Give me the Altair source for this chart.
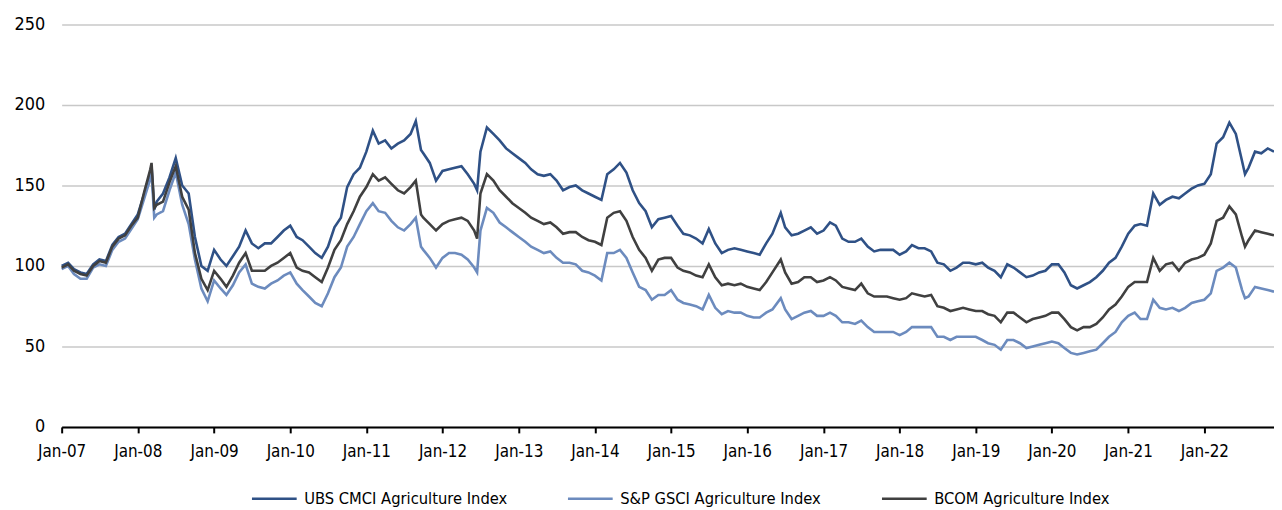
import altair as alt
import pandas as pd

# ---- data ----
dates = (
    [f"2007-{m:02d}-01" for m in range(1, 13)]
    + ["2008-01-01", "2008-02-01", "2008-03-01", "2008-03-07", "2008-03-20", "2008-04-01",
       "2008-05-01", "2008-06-01", "2008-07-01", "2008-08-01", "2008-09-01", "2008-10-01",
       "2008-11-01", "2008-12-01"]
    + [f"2009-{m:02d}-01" for m in range(1, 13)]
    + [f"2010-{m:02d}-01" for m in range(1, 13)]
    + [f"2011-{m:02d}-01" for m in range(1, 9)]
    + ["2011-08-26", "2011-09-20", "2011-10-01", "2011-11-01", "2011-12-01"]
    + [f"2012-{m:02d}-01" for m in range(1, 7)]
    + ["2012-06-15", "2012-07-01", "2012-08-01", "2012-09-01", "2012-10-01", "2012-11-01", "2012-12-01"]
    + [f"2013-{m:02d}-01" for m in range(1, 13)]
    + [f"2014-{m:02d}-01" for m in range(1, 13)]
    + [f"2015-{m:02d}-01" for m in range(1, 13)]
    + ["2016-01-01", "2016-02-01", "2016-03-01", "2016-04-01", "2016-05-01", "2016-06-10",
       "2016-07-01", "2016-08-01", "2016-09-01", "2016-10-01", "2016-11-01", "2016-12-01"]
    + [f"2017-{m:02d}-01" for m in range(1, 13)]
    + [f"2018-{m:02d}-01" for m in range(1, 13)]
    + [f"2019-{m:02d}-01" for m in range(1, 13)]
    + [f"2020-{m:02d}-01" for m in range(1, 13)]
    + [f"2021-{m:02d}-01" for m in range(1, 13)]
    + ["2022-01-01", "2022-02-01", "2022-03-01", "2022-04-01", "2022-05-01", "2022-06-01",
       "2022-07-01", "2022-07-15", "2022-08-01", "2022-09-01", "2022-10-01", "2022-11-01",
       "2022-12-01"]
)

ubs = (
    [100, 102, 98, 96, 95, 101, 104, 103, 113, 118, 120, 126]
    + [132, 145, 158, 162, 135, 140, 145, 155, 167, 150, 145, 118, 100, 97]
    + [110, 104, 100, 106, 112, 122, 114, 111, 114, 114, 118, 122]
    + [125, 118, 116, 112, 108, 105, 112, 124, 130, 149, 157, 161]
    + [171, 184, 176, 178, 173, 176, 178, 182, 190, 172, 170, 164, 153]
    + [159, 160, 161, 162, 157, 151, 147, 171, 186, 182, 178, 173, 170]
    + [167, 164, 160, 157, 156, 157, 153, 147, 149, 150, 147, 145]
    + [143, 141, 157, 160, 164, 158, 147, 139, 134, 124, 129, 130]
    + [131, 125, 120, 119, 117, 114, 123, 114, 108, 110, 111, 110]
    + [109, 108, 107, 114, 120, 133, 124, 119, 120, 122, 124, 120]
    + [122, 127, 125, 117, 115, 115, 117, 112, 109, 110, 110, 110]
    + [107, 109, 113, 111, 111, 109, 102, 101, 97, 99, 102, 102]
    + [101, 102, 99, 97, 93, 101, 99, 96, 93, 94, 96, 97]
    + [101, 101, 96, 88, 86, 88, 90, 93, 97, 102, 105, 112]
    + [120, 125, 126, 125, 145, 138, 141, 143, 142, 145, 148, 150]
    + [151, 157, 176, 180, 189, 182, 165, 157, 161, 171, 170, 173, 171]
)

gsci = (
    [98, 100, 95, 92, 92, 99, 101, 100, 110, 115, 117, 123]
    + [129, 142, 154, 158, 130, 132, 134, 147, 158, 138, 126, 104, 86, 78]
    + [91, 86, 82, 88, 96, 101, 89, 87, 86, 89, 91, 94]
    + [96, 89, 85, 81, 77, 75, 83, 93, 99, 112, 118, 126]
    + [134, 139, 134, 133, 128, 124, 122, 126, 130, 112, 110, 105, 99]
    + [105, 108, 108, 107, 104, 99, 96, 122, 136, 133, 127, 124, 121]
    + [118, 115, 112, 110, 108, 109, 105, 102, 102, 101, 97, 96]
    + [94, 91, 108, 108, 110, 105, 96, 87, 85, 79, 82, 82]
    + [85, 79, 77, 76, 75, 73, 82, 74, 70, 72, 71, 71]
    + [69, 68, 68, 71, 73, 80, 73, 67, 69, 71, 72, 69]
    + [69, 71, 69, 65, 65, 64, 66, 62, 59, 59, 59, 59]
    + [57, 59, 62, 62, 62, 62, 56, 56, 54, 56, 56, 56]
    + [56, 54, 52, 51, 48, 54, 54, 52, 49, 50, 51, 52]
    + [53, 52, 49, 46, 45, 46, 47, 48, 52, 56, 59, 65]
    + [69, 71, 67, 67, 79, 74, 73, 74, 72, 74, 77, 78]
    + [79, 83, 97, 99, 102, 99, 85, 80, 81, 87, 86, 85, 84]
)

bcom = (
    [99, 101, 97, 95, 94, 100, 103, 102, 112, 117, 119, 125]
    + [130, 146, 160, 164, 136, 138, 140, 152, 162, 143, 135, 108, 92, 85]
    + [97, 92, 87, 94, 102, 108, 97, 97, 97, 100, 102, 105]
    + [108, 99, 97, 96, 93, 90, 99, 110, 116, 126, 134, 143]
    + [149, 157, 153, 155, 151, 147, 145, 149, 153, 132, 130, 126, 122]
    + [126, 128, 129, 130, 128, 122, 117, 145, 157, 153, 147, 143, 139]
    + [136, 133, 130, 128, 126, 127, 124, 120, 121, 121, 118, 116]
    + [115, 113, 130, 133, 134, 128, 118, 110, 105, 97, 104, 105]
    + [105, 99, 97, 96, 94, 93, 101, 93, 88, 89, 88, 89]
    + [87, 86, 85, 90, 96, 104, 96, 89, 90, 93, 93, 90]
    + [91, 93, 91, 87, 86, 85, 89, 83, 81, 81, 81, 80]
    + [79, 80, 83, 82, 81, 82, 75, 74, 72, 73, 74, 73]
    + [72, 72, 70, 69, 65, 71, 71, 68, 65, 67, 68, 69]
    + [71, 71, 67, 62, 60, 62, 62, 64, 68, 73, 76, 81]
    + [87, 90, 90, 90, 105, 97, 101, 102, 97, 102, 104, 105]
    + [107, 114, 128, 130, 137, 132, 118, 112, 116, 122, 121, 120, 119]
)

series_names = ["UBS CMCI Agriculture Index", "S&P GSCI Agriculture Index", "BCOM Agriculture Index"]
series_colors = ["#2F5186", "#6C8BBE", "#404040"]
y_ticks = [0, 50, 100, 150, 200, 250]

assert len(dates) == len(ubs) == len(gsci) == len(bcom)

frames = []
for name, vals in zip(series_names, [ubs, gsci, bcom]):
    frames.append(pd.DataFrame({"date": dates, "value": vals, "series": name}))
df = pd.concat(frames, ignore_index=True)
df["order"] = df["series"].map({n: i for i, n in enumerate(series_names)})

FONT = "Liberation Sans Narrow, DejaVu Sans Condensed, Arial Narrow, sans-serif"

chart = (
    alt.Chart(df)
    .mark_line(strokeWidth=2.6)
    .encode(
        x=alt.X(
            "date:T",
            scale=alt.Scale(
                type="utc",
                domain=[
                    alt.DateTime(year=2007, month=1, date=1, utc=True),
                    alt.DateTime(year=2022, month=12, date=1, utc=True),
                ],
            ),
            axis=alt.Axis(
                title=None,
                format="%b-%y",
                tickCount={"interval": "year", "step": 1},
                grid=False,
                domainColor="#000000",
                domainWidth=2,
                tickColor="#000000",
                tickWidth=2,
                tickSize=6,
                labelPadding=11,
                labelFontSize=17,
                labelColor="#000000",
                labelFont=FONT,
                labelFlush=False,
                labelOverlap=False,
                zindex=1,
            ),
        ),
        y=alt.Y(
            "value:Q",
            scale=alt.Scale(domain=[0, 250], nice=False),
            axis=alt.Axis(
                title=None,
                values=y_ticks,
                grid=True,
                gridColor="#C8C8C8",
                gridWidth=1.5,
                domain=False,
                ticks=False,
                labelPadding=17,
                labelFontSize=18,
                labelColor="#000000",
                labelFont=FONT,
            ),
        ),
        color=alt.Color(
            "series:N",
            scale=alt.Scale(domain=series_names, range=series_colors),
            legend=alt.Legend(
                title=None,
                orient="none",
                legendX=190,
                legendY=453,
                direction="horizontal",
                columns=3,
                symbolType="stroke",
                symbolSize=2025,
                symbolStrokeWidth=2.5,
                labelFontSize=16.5,
                labelFont=FONT,
                labelColor="#000000",
                labelOffset=6,
                labelLimit=0,
                columnPadding=55,
            ),
        ),
        order=alt.Order("order:Q"),
        detail="series:N",
    )
    .properties(
        width=1220,
        height=405,
        autosize=alt.AutoSizeParams(type="none"),
        padding={"left": 54, "top": 15, "right": 0, "bottom": 80},
    )
    .configure_view(stroke=None)
)

chart.save("out.html", embed_options={"renderer": "svg", "actions": False})
